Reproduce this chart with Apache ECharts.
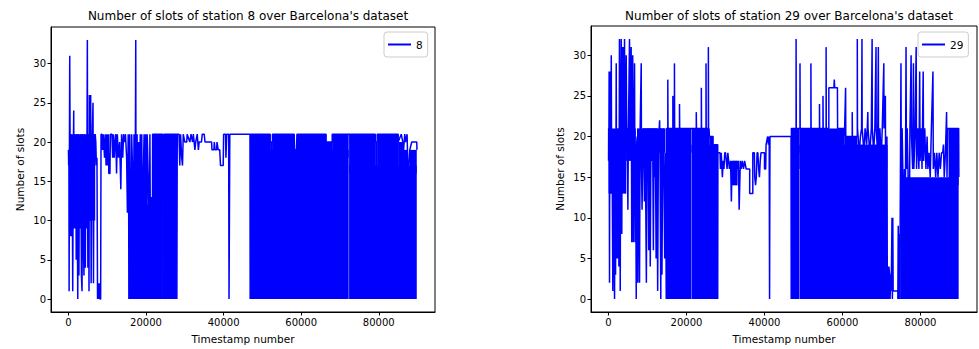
<!DOCTYPE html>
<html><head><meta charset="utf-8">
<script src="https://cdn.jsdelivr.net/npm/echarts@6/dist/echarts.min.js"></script>
<style>html,body{margin:0;padding:0;background:#fff}#c{width:979px;height:349px}</style>
</head><body><div id="c"></div>
<script>
const xTicks = [0, 20000, 40000, 60000, 80000];
const yTicks = [0, 5, 10, 15, 20, 25, 30];
const chartTitles = ["Number of slots of station 8 over Barcelona's dataset", "Number of slots of station 29 over Barcelona's dataset"];
const seriesNames = ['8', '29'];
const xAxisName = 'Timestamp number';
const yAxisName = 'Number of slots';

// station 8: [timestamp, slots]
const s8Points = [
[0,19],[60,17],[120,19],[170,1],[250,19],[330,31],[420,20],[500,8],[650,21],[800,8],[950,20],[1100,1],[1250,18],[1360,24],[1450,9],[1600,21],[1750,9],[1900,20],[2000,5],[2150,21],[2400,0],[2550,21],[2700,3],[2850,20],[3000,9],[3150,21],[3350,3],[3500,1],[3650,21],[3800,9],[4000,3],[4150,21],[4350,4],[4500,20],[4700,9],[4870,33],[5000,4],[5150,21],[5300,1],[5400,26],[5550,10],[5730,26],[5850,2],[6000,15],[6150,21],[6330,25],[6450,2],[6600,21],[6750,17],[6900,21],[7050,20],[7200,17],[7350,18],[7500,0],[7650,2],[7800,0],[7950,2],[8100,0],[8300,0],[8400,21],
[8600,21],[8800,19],[9000,21],[9300,18],[9500,21],[9700,17],[9900,21],[10100,17],[10300,21],[10400,16],[10700,16],[10800,21],[11200,21],[11400,18],[11600,21],[11800,18],[12000,20],[12200,21],[12400,16],[12600,21],[12900,18],[13200,20],[13500,14],[13700,21],[14000,18],[14200,21],[14500,20],[14700,21],[15000,18],[15200,11],[15400,21],[15500,15],
[15600,0],[15800,21],[16000,0],[16300,21],[16500,17],[16700,0],[16900,21],[17100,0],[17350,33],[17450,0],[17700,21],[17900,0],[18100,20],[18300,0],[18500,21],[18700,0],[18900,21],[19100,0],[19300,16],[19500,21],[19700,0],[19900,21],[20100,0],[20300,21],[20600,15],[20800,0],[21000,21],[21200,0],[21400,13],[21600,0],
[21700,21],[24300,21],[24400,0],[24450,17],[24500,0],[24600,21],[27900,21],[27950,0],[28050,21],
[28500,21],[28700,17],[28900,21],[29200,18],[29400,17],[29600,21],[30000,20],[30500,20],[30600,21],[31300,20],[31600,21],[32000,20],[32200,21],[32600,19],[32800,20],[33200,21],[33500,19],[33700,20],[34300,20],[34500,21],[35000,21],[35200,20],[36900,20],[37000,19],[37500,19],[37600,20],[37800,19],[38200,19],[38300,20],[38600,19],[39000,19],[39200,17],[39900,17],[40000,21],[40500,21],[40600,18],[40800,21],[41300,21],[41400,0],[41600,21],[46800,21],
[46850,0],[46900,21],[52000,21],[52000,20],[52600,20],[52600,21],[58200,21],[58300,19],[58800,19],[58900,21],[66400,21],[66400,20],[68000,20],[68000,21],[72700,21],[72700,20],[72900,21],[79100,21],[79100,20],[79600,20],[79600,21],[85000,21],[85000,20],[85800,21],[86200,20],[86400,19],[86700,21],[86900,20],[87300,21],[87500,17],[87800,17],[88000,19],[88500,20],[89800,20],[89850,19]
];
// station 8 dense blocks: [from, to, low, high]
const s8Bands = [
[150,6900,10,21],
[15500,21400,0,12],
[21600,24350,0,21],[24450,27950,0,21],
[46800,72250,0,19],[72350,89800,0,17],
[46800,52100,18,21],[52000,52700,18,20],[52600,58300,18,21],[58900,66500,18,21],[66400,68100,18,20],[68000,72250,18,21],
[72350,79200,16,21],[79100,79700,16,20],[79600,85100,16,21],[85000,86500,16,20],[86400,87500,16,19],[88000,89800,16,19]
];

// station 29: [timestamp, slots]
const s29Points = [
[0,17],[30,21],[80,17],[150,28],[250,2],[350,28],[450,13],[600,21],[700,30],[800,13],[900,20],[1000,10],[1100,1],[1250,20],[1400,10],[1540,0],[1700,20],[1800,3],[1970,29],[2100,5],[2200,20],[2400,5],[2550,21],[2650,4],[2800,32],[2900,13],[3000,1],[3100,21],[3250,32],[3400,8],[3500,31],[3670,13],[3800,31],[3950,15],[4100,32],[4250,13],[4400,21],[4530,30],[4700,18],[4800,21],[4960,11],[5100,21],[5380,32],[5500,19],[5650,21],[5800,31],[5950,7],[6050,21],[6200,30],[6350,7],[6500,19],[6670,29],[6800,7],[6950,19],[7100,0],[7200,19],[7350,20],[7500,2],[7650,20],[7800,16],[7950,2],[8100,21],[8380,29],[8450,16],[8600,11],[8800,20],[9000,21],[9200,12],[9400,21],[9700,2],[9850,21],[10000,15],[10100,21],[10300,6],[10500,21],[10700,4],[10900,21],[11100,17],[11300,21],[11500,6],[11700,21],[11800,15],[12000,21],[12200,5],[12400,21],[12600,1],[12800,20],[13000,21],[13100,22],[13200,18],[13400,0],[13500,21],[13700,3],[13900,18],[14100,21],[14400,5],[14600,18],
[14800,0],[14900,21],[15200,21],[15200,27],[15250,21],[16500,21],[16500,25],[16550,21],[16900,21],[16900,29],[16950,21],[18200,21],[18200,24],[18250,21],[22500,21],[22500,23],[22550,21],[23800,21],[23800,26],[23850,21],[25000,21],[25000,29],[25050,21],[25600,21],[25600,31],[25650,21],[25900,20],[26800,20],[26800,19],[28000,19],[28000,0],
[28050,18],[28600,18],[28700,16],[28900,18],[29100,16],[29200,15],[29400,17],[29600,16],[29800,18],[30000,18],[30200,17],[30400,16],[30600,18],[30800,17],[31000,16],[31300,17],[31500,12],[31700,17],[31900,14],[32100,17],[32300,15],[32500,17],[32700,14],[32900,17],[33100,16],[33300,17],[33500,11],[33800,17],[34000,16],[34300,17],[34600,16],[34900,17],[35300,16],[36200,16],[36200,13],[37000,13],[37000,18],[37400,18],[37500,15],[37700,14],[37900,15],[38100,18],[38300,18],[38500,16],[38700,15],[38900,17],[39100,18],[40000,18],[40000,16],[40300,16],[40400,19],[40800,20],[41000,19],[41200,20],[41300,0],[41400,20],[46800,20],
[46850,0],[46900,21],[48100,21],[48100,32],[48150,21],[49100,21],[49100,29],[49150,21],[51900,21],[51900,29],[51950,21],[54100,21],[54100,24],[54150,21],[55000,21],[55000,25],[55050,21],[55800,21],[55800,31],[55850,21],[56500,21],[56500,26],[57800,26],[57900,27],[58000,26],[58700,26],[58750,21],[60500,21],[60500,20],[60800,26],[60850,20],[62500,20],[62500,23],[62550,20],[63800,20],[63800,32],[63850,21],
[64000,21],[64300,18],[64600,20],[64900,21],[65000,32],[65050,21],[65500,18],[65800,21],[66200,19],[66500,23],[66550,21],[67000,18],[67400,21],[67600,32],[67650,21],[68000,18],[68300,21],[68600,31],[68650,21],[69000,18],[69200,31],[69250,18],[69600,21],[69900,17],[70200,21],[70600,29],[70650,21],[71000,25],[71050,17],[71400,20],[71500,0],
[71600,4],[71800,0],[71900,4],[72100,3],[72200,0],[72400,3],[72500,1],[72700,10],[72800,0],[72900,10],[73000,1],[73200,1],[74200,1],[74200,0],[74300,9],[74400,0],[74600,8],[74700,0],
[75000,29],[75100,12],[75300,21],[75500,15],[75700,7],[75900,16],[76100,8],[76300,31],[76400,16],[76600,21],[76800,16],[77100,5],[77300,21],[77600,30],[77700,20],[78000,16],[78200,29],[78300,16],[78600,20],[78900,31],[79000,16],[79300,21],[79600,16],[79800,28],[79900,17],[80200,21],[80400,16],[80700,28],[80800,17],[81100,21],[81400,16],[81700,20],[81900,16],[82200,18],[82500,15],[82800,21],[83200,28],[83300,16],[83600,18],[83900,15],[84200,18],[84500,15],[84800,18],[85100,16],[85400,18],[85700,18],[85900,19],[86100,15],[86400,18],[86700,23],[86800,15],[87000,21],[89800,21],[89850,15]
];
// station 29 dense blocks: [from, to, low, high]
const s29Bands = [
[0,4550,13,21],[4500,7000,17,21],[7300,14600,18,21],
[14800,21150,0,21],[21250,28000,0,19],[21250,25950,18,21],[25900,26850,18,20],
[31900,33100,14,17],
[46800,48960,0,21],[48940,71500,16,19],[49040,71500,0,19],[48940,60550,18,21],[60500,63850,18,20],
[74800,89800,0,15],[87200,89800,14,21]
];

const BLUE = '#0000ff';
const FONT = 'DejaVu Sans';
const chart = echarts.init(document.getElementById('c'), null, {renderer: 'svg'});

const grids = [
  {left: 51, top: 27, width: 384, height: 286},
  {left: 591, top: 26, width: 386, height: 287}
];
const yRanges = [[-1.65, 34.65], [-1.6, 33.6]];
const legendPos = [{left: 384, top: 32}, {left: 918, top: 32}];

// each dense block is a filled rectangle between its low and high value
function bandAreas(bands) {
  return bands.map(b => [{coord: [b[0], b[3]]}, {coord: [b[1], b[2]]}]);
}

function lineSeries(i, points, bands) {
  return {
    type: 'line', name: seriesNames[i], xAxisIndex: i, yAxisIndex: i, data: points,
    symbol: 'none', showSymbol: false,
    lineStyle: {color: BLUE, width: 1.5}, itemStyle: {color: BLUE},
    markArea: {
      silent: true,
      itemStyle: {color: BLUE, opacity: 1, borderWidth: 0},
      label: {show: false},
      emphasis: {disabled: true},
      data: bandAreas(bands)
    }
  };
}

const option = {
  animation: false,
  backgroundColor: '#fff',
  textStyle: {fontFamily: FONT},
  title: chartTitles.map((t, i) => ({
    text: t, left: grids[i].left + grids[i].width / 2, textAlign: 'center', top: 5,
    textStyle: {fontFamily: FONT, fontSize: 12, fontWeight: 'normal', color: '#000'}
  })),
  legend: seriesNames.map((n, i) => ({
    data: [n], left: legendPos[i].left, top: legendPos[i].top, orient: 'vertical',
    icon: 'rect', padding: [7, 5, 7, 4], itemWidth: 23, itemHeight: 2, itemGap: 4,
    borderColor: '#cccccc', borderWidth: 1, borderRadius: 3, backgroundColor: '#fff',
    textStyle: {fontFamily: FONT, fontSize: 10.5, color: '#000'}
  })),
  grid: grids.map(g => Object.assign({show: true, borderColor: '#000', borderWidth: 1, backgroundColor: 'transparent'}, g)),
  xAxis: grids.map((g, i) => ({
    type: 'value', gridIndex: i, min: -4500, max: 94500,
    splitLine: {show: false},
    axisLine: {show: true, onZero: false, lineStyle: {color: '#000', width: 1}},
    axisTick: {show: true, customValues: xTicks, length: 3.5, lineStyle: {color: '#000'}},
    axisLabel: {customValues: xTicks, formatter: v => String(v), fontFamily: FONT, fontSize: 10, color: '#000', margin: 5},
    name: xAxisName, nameLocation: 'middle', nameGap: 21,
    nameTextStyle: {fontFamily: FONT, fontSize: 10.5, color: '#000'}
  })),
  yAxis: grids.map((g, i) => ({
    type: 'value', gridIndex: i, min: yRanges[i][0], max: yRanges[i][1],
    splitLine: {show: false},
    axisLine: {show: true, onZero: false, lineStyle: {color: '#000', width: 1}},
    axisTick: {show: true, customValues: yTicks, length: 3.5, lineStyle: {color: '#000'}},
    axisLabel: {customValues: yTicks, formatter: v => String(v), fontFamily: FONT, fontSize: 10, color: '#000', margin: 5},
    name: yAxisName, nameLocation: 'middle', nameGap: 26,
    nameTextStyle: {fontFamily: FONT, fontSize: 10.5, color: '#000'}
  })),
  series: [
    lineSeries(0, s8Points, s8Bands),
    lineSeries(1, s29Points, s29Bands)
  ]
};
chart.setOption(option);
</script></body></html>
